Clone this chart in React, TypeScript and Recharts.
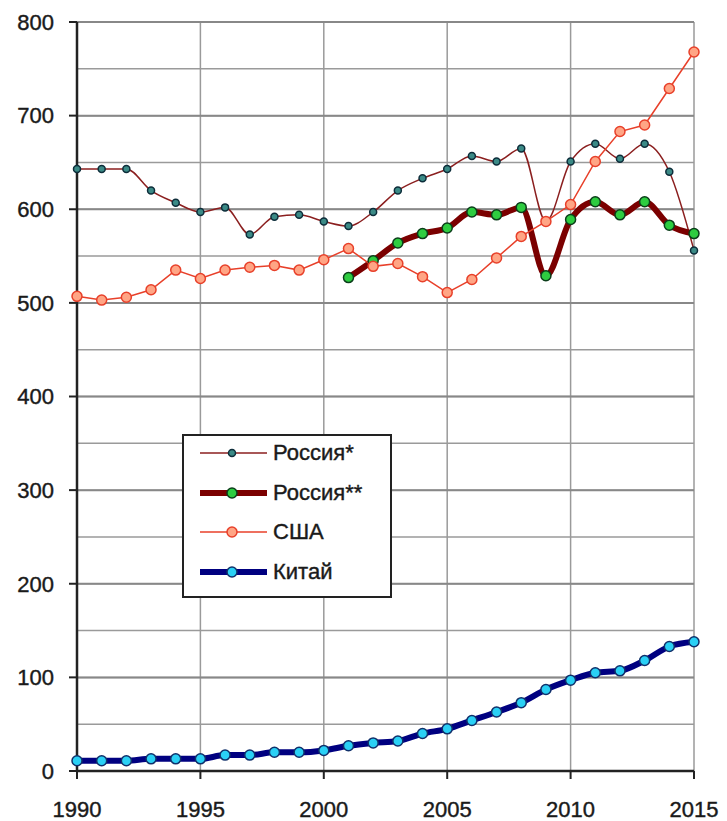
import React from "react";
import { LineChart, Line, XAxis, YAxis, CartesianGrid, Legend } from "recharts";

// years on the x axis
const YEARS = [
  1990, 1991, 1992, 1993, 1994, 1995, 1996, 1997, 1998, 1999, 2000, 2001, 2002,
  2003, 2004, 2005, 2006, 2007, 2008, 2009, 2010, 2011, 2012, 2013, 2014, 2015,
];

const RUSSIA_1 = [
  643, 643, 643, 620, 607, 597, 602, 573, 592, 594, 587, 582, 597, 620, 633, 643,
  657, 651, 665, 587, 651, 670, 654, 670, 640, 556,
];

const RUSSIA_2 = [
  null, null, null, null, null, null, null, null, null, null, null, 527, 545, 564,
  574, 580, 597, 594, 602, 529, 589, 608, 594, 608, 583, 574,
];

const USA = [
  507, 503, 506, 514, 535, 526, 535, 538, 540, 535, 546, 558, 539, 542, 528, 511,
  525, 548, 571, 587, 605, 651, 683, 690, 729, 768,
];

const CHINA = [
  11, 11, 11, 13, 13, 13, 17, 17, 20, 20, 22, 27, 30, 32, 40, 45, 54, 63, 73, 87,
  97, 105, 107, 118, 133, 138,
];

const X_TICKS = [1990, 1995, 2000, 2005, 2010, 2015];
const Y_TICKS = [0, 100, 200, 300, 400, 500, 600, 700, 800];
const Y_GRID = [0, 50, 100, 150, 200, 250, 300, 350, 400, 450, 500, 550, 600, 650, 700, 750, 800];

const data = YEARS.map((year, i) => ({
  year,
  russia1: RUSSIA_1[i],
  russia2: RUSSIA_2[i],
  usa: USA[i],
  china: CHINA[i],
}));

const SERIES = [
  { key: "russia1", name: "Россия*", color: "#8b1f1f", width: 1.5, r: 3.5, fill: "#3b8a86", dot: "#0d2d3a", type: "monotone" },
  { key: "russia2", name: "Россия**", color: "#7b0000", width: 6, r: 5, fill: "#2ecc40", dot: "#0b3d1a", type: "monotone" },
  { key: "usa", name: "США", color: "#e8402a", width: 1.5, r: 5, fill: "#ffa585", dot: "#e8402a", type: "linear" },
  { key: "china", name: "Китай", color: "#000080", width: 6, r: 5, fill: "#2ad0f5", dot: "#10306a", type: "monotone" },
];

const FONT = "'Liberation Sans', Arial, sans-serif";
const TICK = { fill: "#1a1a1a", stroke: "#1a1a1a", strokeWidth: 0.4, fontSize: 22, fontFamily: FONT };

const renderLegend = () => (
  <div
    style={{
      position: "relative",
      width: 210,
      height: 164,
      border: "2px solid #222",
      background: "#fff",
      boxSizing: "border-box",
      fontFamily: FONT,
      fontSize: 22,
      color: "#1a1a1a",
      WebkitTextStroke: "0.4px #1a1a1a",
    }}
  >
    {SERIES.map((s, i) => (
      <div
        key={s.key}
        style={{ position: "absolute", left: 0, top: -3 + i * 39.7, height: 40, display: "flex", alignItems: "center" }}
      >
        <svg width={87} height={40}>
          <line x1={16} x2={83} y1={20} y2={20} stroke={s.color} strokeWidth={s.width} />
          <circle cx={48} cy={20} r={s.r} fill={s.fill} stroke={s.dot} strokeWidth={1.5} />
        </svg>
        <span style={{ marginLeft: 2 }}>{s.name}</span>
      </div>
    ))}
  </div>
);

export default function App() {
  return (
    <div style={{ position: "absolute", left: 0, top: 0, background: "#fff" }}>
      <LineChart width={727} height={821} data={data} margin={{ top: 22, right: 33, left: 0, bottom: 0 }}>
        <CartesianGrid stroke="#9a9a9a" strokeWidth={1.5} horizontalValues={Y_GRID} verticalValues={X_TICKS} />
        <CartesianGrid stroke="#888" strokeWidth={2} horizontalValues={Y_TICKS} vertical={false} />
        <XAxis
          dataKey="year"
          type="number"
          domain={[1990, 2015]}
          ticks={X_TICKS}
          interval={0}
          height={50}
          tickSize={8}
          tickMargin={22}
          axisLine={{ stroke: "#222", strokeWidth: 2.5 }}
          tickLine={{ stroke: "#222", strokeWidth: 2 }}
          tick={TICK}
        />
        <YAxis
          domain={[0, 800]}
          ticks={Y_TICKS}
          interval={0}
          width={77}
          tickSize={8}
          tickMargin={15}
          axisLine={{ stroke: "#222", strokeWidth: 2.5 }}
          tickLine={{ stroke: "#222", strokeWidth: 2 }}
          tick={TICK}
        />
        <Legend
          layout="horizontal"
          verticalAlign="middle"
          align="center"
          content={renderLegend}
          wrapperStyle={{ left: 182, top: 434, width: 210, height: 164 }}
        />
        {SERIES.map((s) => (
          <Line
            key={s.key}
            dataKey={s.key}
            name={s.name}
            type={s.type as "monotone" | "linear"}
            stroke={s.color}
            strokeWidth={s.width}
            dot={{ r: s.r, fill: s.fill, stroke: s.dot, strokeWidth: 1.5 }}
            activeDot={false}
            connectNulls={false}
            isAnimationActive={false}
          />
        ))}
      </LineChart>
    </div>
  );
}
